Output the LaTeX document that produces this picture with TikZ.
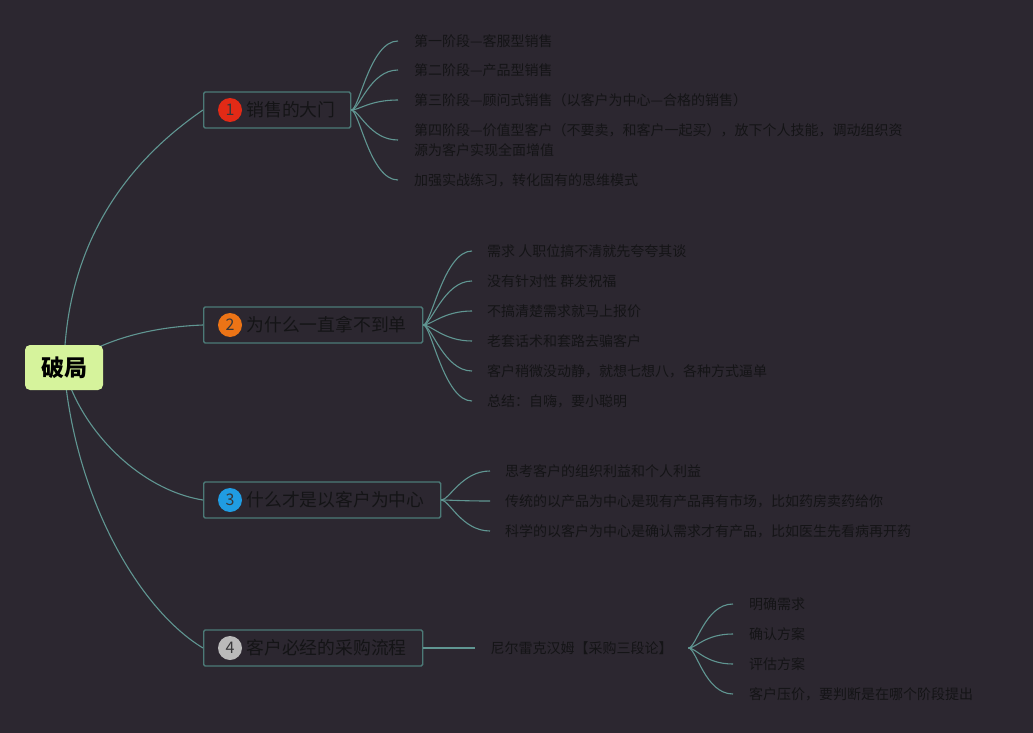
\documentclass[tikz,border=0pt]{standalone}
\usepackage{fontspec}
\setmainfont{Noto Sans CJK SC}
\usetikzlibrary{calc,positioning}
\definecolor{bgcol}{RGB}{44,39,48}
\definecolor{rootfill}{RGB}{214,243,156}
\definecolor{boxline}{RGB}{76,122,119}
\definecolor{linkcol}{RGB}{96,150,146}
\definecolor{inkcol}{RGB}{20,20,22}
\definecolor{badgeA}{RGB}{226,42,22}
\definecolor{badgeB}{RGB}{236,116,22}
\definecolor{badgeC}{RGB}{32,156,226}
\definecolor{badgeD}{RGB}{186,186,186}
\pgfdeclarelayer{background}
\pgfsetlayers{background,main}
\tikzset{
    rootbox/.style={fill=rootfill,rounded corners=5pt,minimum width=78pt,minimum height=45pt,inner sep=0pt,text=black,font=\fontsize{23}{26}\selectfont\bfseries},
    branchbox/.style={draw=boxline,line width=1.3pt,rounded corners=1.5pt,fill=bgcol,minimum height=36pt,anchor=west,inner sep=0pt},
    branchtext/.style={inner sep=0pt,text=inkcol,font=\fontsize{17.8}{20}\selectfont},
    badge/.style={circle,inner sep=0pt,minimum size=24pt,text=inkcol!85!white,font=\fontsize{16}{16}\selectfont},
    leaf/.style={anchor=west,inner xsep=16pt,inner ysep=0pt,align=left,text=inkcol,font=\fontsize{14}{20}\selectfont},
    link/.style={draw=linkcol,line width=1.1pt},
    fan/.style={out=0,in=180,out distance=8pt,in distance=28pt}
}
\begin{document}
\begin{tikzpicture}[x=1pt,y=-1pt]
  \useasboundingbox (0,0) rectangle (1033,733);

  % 中心主题
  \node[rootbox] (root) at (64,367.5) {破局};

  % 四个主分支
  \foreach \i/\y/\w/\c/\t in {1/110/147pt/badgeA/销售的大门,2/325/219pt/badgeB/为什么一直拿不到单,3/500/237pt/badgeC/什么才是以客户为中心,4/648/219pt/badgeD/客户必经的采购流程}{
    \node[branchbox,minimum width=\w] (B\i) at (203,\y) {};
    \node[badge,fill=\c] (N\i) at ($(B\i.west)+(27,0)$) {\i};
    \node[branchtext,right=4pt of N\i] (T\i) {\t};
  }

  \begin{pgfonlayer}{background}
    \fill[bgcol] (0,0) rectangle (1033,733);
    \draw[link] (root.center) .. controls (66,240) and (130,160) .. (B1.west);
    \draw[link] (root.center) .. controls (100,340) and (150,327) .. (B2.west);
    \draw[link] (root.center) .. controls (80,430) and (140,490) .. (B3.west);
    \draw[link] (root.center) .. controls (75,500) and (140,610) .. (B4.west);
  \end{pgfonlayer}

  % 分支1：销售的大门
  \foreach \k/\y/\t in {1/41/第一阶段—客服型销售,2/70/第二阶段—产品型销售,3/100/第三阶段—顾问式销售（以客户为中心—合格的销售）,4/140/{第四阶段—价值型客户（不要卖，和客户一起买），放下个人技能，调动组织资\\源为客户实现全面增值},5/180/加强实战练习，转化固有的思维模式}{
    \node[leaf] (L1-\k) at (398,\y) {\t};
    \draw[link] (B1.east) to[fan] (L1-\k.west);
  }

  % 分支2：为什么一直拿不到单
  \foreach \k/\y/\t in {1/251/需求 人职位搞不清就先夸夸其谈,2/281/没有针对性 群发祝福,3/311/不搞清楚需求就马上报价,4/341/老套话术和套路去骗客户,5/371/客户稍微没动静，就想七想八，各种方式逼单,6/401/总结：自嗨，要小聪明}{
    \node[leaf,inner xsep=15pt] (L2-\k) at (472,\y) {\t};
    \draw[link] (B2.east) to[fan] (L2-\k.west);
  }

  % 分支3：什么才是以客户为中心
  \foreach \k/\y/\t in {1/471/思考客户的组织利益和个人利益,2/501/传统的以产品为中心是现有产品再有市场，比如药房卖药给你,3/531/科学的以客户为中心是确认需求才有产品，比如医生先看病再开药}{
    \node[leaf,inner xsep=15pt] (L3-\k) at (490,\y) {\t};
    \draw[link] (B3.east) to[fan] (L3-\k.west);
  }

  % 分支4：客户必经的采购流程
  \node[leaf,inner xsep=0pt,minimum width=213pt,align=center] (M4) at (475,648) {尼尔雷克汉姆【采购三段论】};
  \draw[link] (B4.east) -- (M4.west);
  \foreach \k/\y/\t in {1/604/明确需求,2/634/确认方案,3/664/评估方案,4/694/客户压价，要判断是在哪个阶段提出}{
    \node[leaf] (L4-\k) at (733,\y) {\t};
    \draw[link] (M4.east) to[fan] (L4-\k.west);
  }
\end{tikzpicture}
\end{document}
